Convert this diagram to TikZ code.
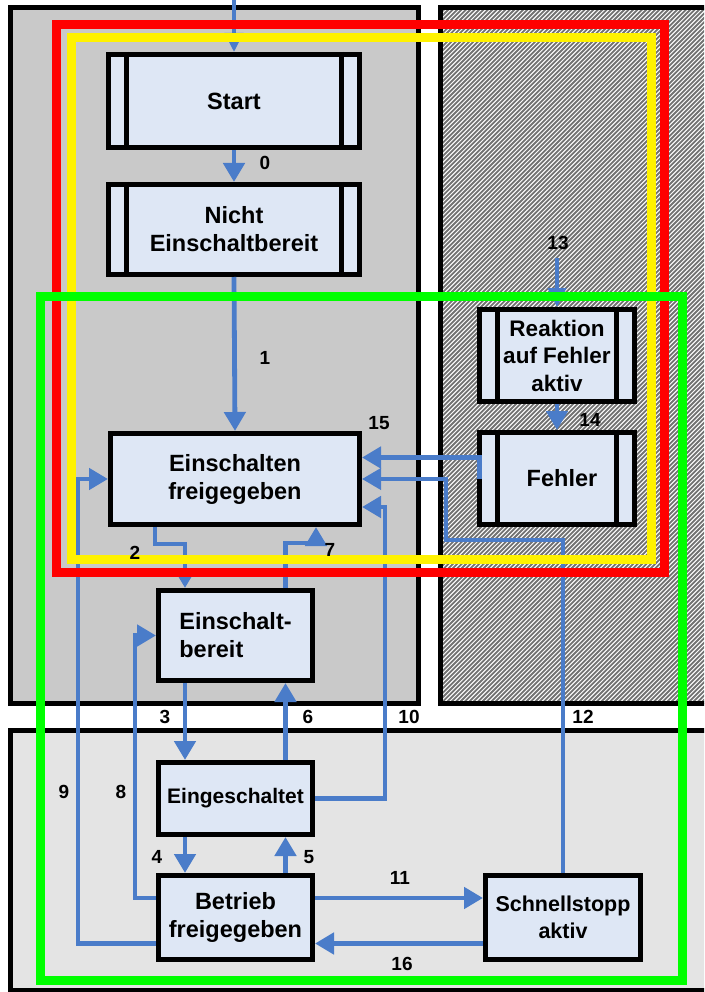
\documentclass[tikz,border=0pt]{standalone}
\usepackage{fontspec}
\setmainfont{Liberation Sans}
\usetikzlibrary{arrows.meta}
\definecolor{panelA}{HTML}{C9C9C9}
\definecolor{panelB}{HTML}{E4E4E4}
\definecolor{boxfill}{HTML}{DEE7F5}
\definecolor{flow}{HTML}{4A7CC9}
\definecolor{hatchgray}{HTML}{727272}
\begin{document}
\begin{tikzpicture}[x=1pt,y=-1pt,
  stbox/.style={draw=black, line width=5pt, fill=boxfill, inner sep=0pt, align=center,
    font=\fontsize{23.5}{28}\selectfont\bfseries},
  arr/.style={draw=flow, line width=4.8pt, -{Triangle[width=21pt,length=19pt]}},
  arrthin/.style={draw=flow, line width=4pt, -{Triangle[width=18pt,length=19pt]}},
  num/.style={font=\fontsize{19}{21}\selectfont\bfseries, inner sep=0pt},
  pnl/.style={draw=black, line width=5pt},
  cframe/.style={line width=9pt},
  sideline/.style={draw=black, line width=5pt},
]
\useasboundingbox (0,0) rectangle (704,992);
\clip (0,0) rectangle (704,992);
\fill[white] (0,0) rectangle (704,992);

% panels
\draw[pnl, fill=panelA] (10,8) rectangle (418,703);
\draw[pnl, fill=panelB] (10,730) rectangle (712,990);
\begin{scope}
  \clip (440,8) rectangle (712,703);
  \fill[white] (440,8) rectangle (712,703);
  \foreach \i in {-270,-265.6,...,712} \draw[hatchgray, line width=1.8pt] (\i,706) -- (\i+700,6);
\end{scope}
\draw[pnl] (440,8) rectangle (712,703);

% states
\node[stbox, minimum width=251pt, minimum height=93pt] (st) at (234,101) {Start};
\node[stbox, minimum width=251pt, minimum height=90pt] (ne) at (234,229.5) {Nicht\\Einschaltbereit};
\node[stbox, minimum width=249pt, minimum height=91pt] (ef) at (235,479) {Einschalten\\freigegeben};
\node[stbox, minimum width=154pt, minimum height=90pt, align=left] (eb) at (235.5,635.5) {Einschalt-\\bereit};
\node[stbox, minimum width=154pt, minimum height=72pt, font=\fontsize{21}{26}\selectfont\bfseries] (ein) at (235.5,798.5) {Eingeschaltet};
\node[stbox, minimum width=154pt, minimum height=84pt] (bet) at (235.5,917.5) {Betrieb\\freigegeben};
\node[stbox, minimum width=155pt, minimum height=84pt, font=\fontsize{21.5}{27}\selectfont\bfseries] (ss) at (563,917.5) {Schnellstopp\\aktiv};
\node[stbox, minimum width=155pt, minimum height=92pt, font=\fontsize{22.5}{27.5}\selectfont\bfseries] (re) at (557,355.5) {Reaktion\\auf Fehler\\aktiv};
\node[stbox, minimum width=155pt, minimum height=92pt] (fe) at (557,478.5) {\hspace*{10pt}Fehler};

\foreach \n in {st,ne,re,fe} {
  \draw[sideline] ([xshift=20.5pt]\n.north west) -- ([xshift=20.5pt]\n.south west);
  \draw[sideline] ([xshift=-20.5pt]\n.north east) -- ([xshift=-20.5pt]\n.south east);
}

% connectors
\coordinate (topin) at (234,0);
\coordinate (in13) at (557,258);
\coordinate (k12) at (446,540);
\draw[arrthin] (topin) -- (st.north);
\draw[arr] (st.south) -- (ne.north);
\draw[arr] (ne.south) -- (ef.north);
\draw[arr] ([xshift=-80pt]ef.south) -- ++(0,17) -| ([xshift=-50.5pt]eb.north);
\draw[arr] ([xshift=50pt]eb.north) -- ++(0,-45) -| ([xshift=81pt]ef.south);
\draw[arr] ([xshift=-50.5pt]eb.south) -- ([xshift=-50.5pt]ein.north);
\draw[arr] ([xshift=50pt]ein.north) -- ([xshift=50pt]eb.south);
\draw[arr] ([xshift=-50.5pt]ein.south) -- ([xshift=-50.5pt]bet.north);
\draw[arr] ([xshift=50pt]bet.north) -- ([xshift=50pt]ein.south);
\draw[arr] ([yshift=19.5pt]bet.west) -- ++(-21,0) |- (eb.west);
\draw[arr] ([yshift=-26pt]bet.west) -- ++(-78,0) |- (ef.west);
\draw[arr] (ein.east) -- ++(70,0) |- ([yshift=-28pt]ef.east);
\draw[arr] ([yshift=19.5pt]bet.east) -- ([yshift=19.5pt]ss.west);
\draw[arr] ([yshift=-26pt]ss.west) -- ([yshift=-26pt]bet.east);
\draw[arr, line width=4pt] (ss.north) |- (k12) |- (ef.east);
\draw[arr] ([xshift=2.5pt]fe.west) |- ([yshift=21.5pt]ef.east);
\draw[arrthin] (in13) -- (re.north);
\draw[arr] (re.south) -- (fe.north);

% coloured frames
\draw[red, cframe] (56,25) rectangle (664,572);
\draw[yellow, cframe] (71,38) rectangle (651,559);
\draw[green, cframe] (40,296) rectangle (682,980);

% transition numbers
\node[num] (n0) at (265,163) {0};
\node[num] (n1) at (265,358) {1};
\node[num] (n2) at (135,553) {2};
\node[num] (n3) at (165,717) {3};
\node[num] (n4) at (157,857) {4};
\node[num] (n5) at (309,857) {5};
\node[num] (n6) at (308,717) {6};
\node[num] (n7) at (330,550) {7};
\node[num] (n8) at (121,792) {8};
\node[num] (n9) at (64,792) {9};
\node[num] (n10) at (409,717) {10};
\node[num] (n11) at (400,878) {11};
\node[num] (n12) at (583,717) {12};
\node[num] (n13) at (558,243) {13};
\node[num] (n14) at (590,420) {14};
\node[num] (n15) at (379,423) {15};
\node[num] (n16) at (402,964) {16};
\end{tikzpicture}
\end{document}
